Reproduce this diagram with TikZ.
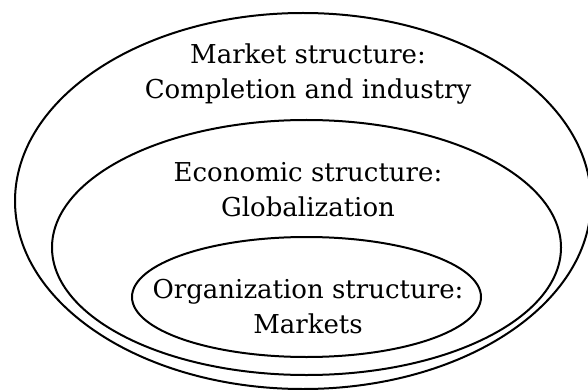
\documentclass[tikz,border=0pt]{standalone}
\usepackage{fontspec}
\setmainfont{DejaVu Serif}
\usetikzlibrary{shapes.geometric}
\begin{document}
\begin{tikzpicture}[x=1pt,y=-1pt,
  ring/.style={draw, ellipse, line width=2pt, inner sep=0pt},
  ringtext/.style={align=center, inner sep=0pt, font=\fontsize{26}{35}\selectfont}]
\useasboundingbox (0,0) rectangle (588,390);
% nested structure levels
\node[ring, minimum width=576pt, minimum height=376pt] (market) at (303,201) {};
\node[ring, minimum width=509pt, minimum height=255pt] (economic) at (306.5,247.5) {};
\node[ring, minimum width=349pt, minimum height=120pt] (organization) at (306.5,297) {};
% level captions
\node[ringtext] (markettext) at (308,74) {Market structure:\\Completion and industry};
\node[ringtext] (economictext) at (308,190) {Economic structure:\\Globalization};
\node[ringtext] (organizationtext) at (308,307) {Organization structure:\\Markets};
\end{tikzpicture}
\end{document}
